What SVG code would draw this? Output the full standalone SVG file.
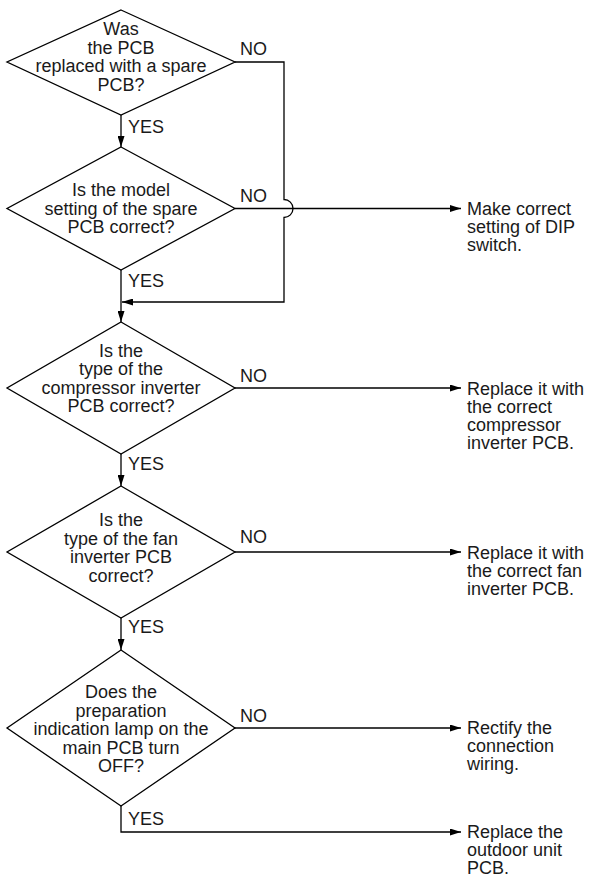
<svg xmlns="http://www.w3.org/2000/svg" width="589" height="876" viewBox="0 0 589 876">
<style>
text{font-family:"Liberation Sans",Arial,Helvetica,sans-serif;font-size:18px;fill:#1a1a1a}
.c{text-anchor:middle}
.d{fill:#fff;stroke:#000;stroke-width:1.3}
.l{fill:none;stroke:#000;stroke-width:1.3}
</style>
<defs>
<marker id="ah" markerUnits="userSpaceOnUse" markerWidth="11" markerHeight="7" refX="11" refY="3.5" orient="auto"><path d="M0,0 L11,3.5 L0,7 z" fill="#000"/></marker>
</defs>
<rect width="589" height="876" fill="#fff"/>
<g id="connectors">
<path class="l" d="M121,115 V147" marker-end="url(#ah)"/>
<path class="l" d="M121,270 V322" marker-end="url(#ah)"/>
<path class="l" d="M121,454 V486" marker-end="url(#ah)"/>
<path class="l" d="M121,618 V650" marker-end="url(#ah)"/>
<path class="l" d="M235,62 H284 V199.5 A9,9 0 0 1 284,217.5 V302 H122" marker-end="url(#ah)"/>
<path class="l" d="M235,208.5 H461" marker-end="url(#ah)"/>
<path class="l" d="M235,388 H461" marker-end="url(#ah)"/>
<path class="l" d="M235,552 H461" marker-end="url(#ah)"/>
<path class="l" d="M235,728 H461" marker-end="url(#ah)"/>
<path class="l" d="M121,806 V832 H461" marker-end="url(#ah)"/>
<text x="240" y="55">NO</text>
<text x="128" y="133">YES</text>
<text x="240" y="202">NO</text>
<text x="128" y="287">YES</text>
<text x="240" y="382">NO</text>
<text x="128" y="470">YES</text>
<text x="240" y="543">NO</text>
<text x="128" y="633">YES</text>
<text x="240" y="722">NO</text>
<text x="128" y="825">YES</text>
</g>
<g id="q1">
<polygon class="d" points="121,10 235,62 121,115 7,62"/>
<text class="c" x="121" y="35">Was</text>
<text class="c" x="121" y="53.5">the PCB</text>
<text class="c" x="121" y="72">replaced with a spare</text>
<text class="c" x="121" y="90.5">PCB?</text>
</g>
<g id="q2">
<polygon class="d" points="121,147 235,208.5 121,270 7,208.5"/>
<text class="c" x="121" y="196">Is the model</text>
<text class="c" x="121" y="214.5">setting of the spare</text>
<text class="c" x="121" y="233">PCB correct?</text>
</g>
<g id="q3">
<polygon class="d" points="121,322 235,388 121,454 7,388"/>
<text class="c" x="121" y="357">Is the</text>
<text class="c" x="121" y="375">type of the</text>
<text class="c" x="121" y="393.5">compressor inverter</text>
<text class="c" x="121" y="412">PCB correct?</text>
</g>
<g id="q4">
<polygon class="d" points="121,486 235,552 121,618 7,552"/>
<text class="c" x="121" y="526">Is the</text>
<text class="c" x="121" y="544.5">type of the fan</text>
<text class="c" x="121" y="563">inverter PCB</text>
<text class="c" x="121" y="581.5">correct?</text>
</g>
<g id="q5">
<polygon class="d" points="121,650 235,728 121,806 7,728"/>
<text class="c" x="121" y="698">Does the</text>
<text class="c" x="121" y="716.5">preparation</text>
<text class="c" x="121" y="735">indication lamp on the</text>
<text class="c" x="121" y="753.5">main PCB turn</text>
<text class="c" x="121" y="772">OFF?</text>
</g>
<g id="a1">
<text x="467" y="215">Make correct</text>
<text x="467" y="233">setting of DIP</text>
<text x="467" y="251">switch.</text>
</g>
<g id="a2">
<text x="467" y="395">Replace it with</text>
<text x="467" y="413">the correct</text>
<text x="467" y="431">compressor</text>
<text x="467" y="449">inverter PCB.</text>
</g>
<g id="a3">
<text x="467" y="559">Replace it with</text>
<text x="467" y="577">the correct fan</text>
<text x="467" y="595">inverter PCB.</text>
</g>
<g id="a4">
<text x="467" y="734">Rectify the</text>
<text x="467" y="752">connection</text>
<text x="467" y="770">wiring.</text>
</g>
<g id="a5">
<text x="467" y="838">Replace the</text>
<text x="467" y="856">outdoor unit</text>
<text x="467" y="874">PCB.</text>
</g>
</svg>
